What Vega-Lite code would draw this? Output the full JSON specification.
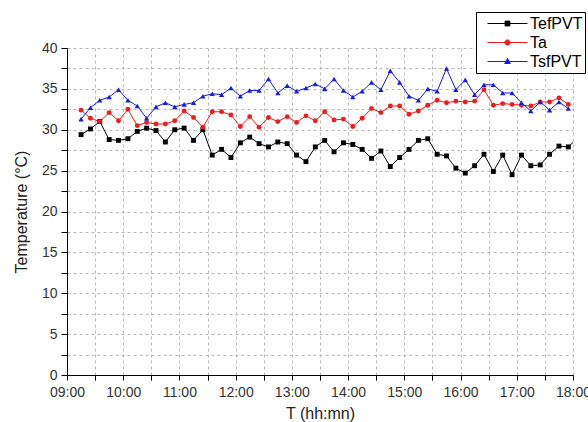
{
  "$schema": "https://vega.github.io/schema/vega-lite/v6.json",
  "width": 506,
  "height": 327,
  "autosize": {"type": "none"},
  "padding": {"left": 67, "top": 48, "right": 15, "bottom": 47},
  "background": "white",
  "config": {"view": {"stroke": null}, "font": "Liberation Sans"},
  "data": {
    "values": [
      {"series":"TefPVT","t":"2000-01-01T09:15","temp":29.4},{"series":"TefPVT","t":"2000-01-01T09:25","temp":30.1},{"series":"TefPVT","t":"2000-01-01T09:35","temp":31.0},{"series":"TefPVT","t":"2000-01-01T09:45","temp":28.8},{"series":"TefPVT","t":"2000-01-01T09:55","temp":28.7},{"series":"TefPVT","t":"2000-01-01T10:05","temp":28.9},{"series":"TefPVT","t":"2000-01-01T10:15","temp":29.8},{"series":"TefPVT","t":"2000-01-01T10:25","temp":30.2},{"series":"TefPVT","t":"2000-01-01T10:35","temp":29.9},{"series":"TefPVT","t":"2000-01-01T10:45","temp":28.5},{"series":"TefPVT","t":"2000-01-01T10:55","temp":30.0},{"series":"TefPVT","t":"2000-01-01T11:05","temp":30.2},{"series":"TefPVT","t":"2000-01-01T11:15","temp":28.7},{"series":"TefPVT","t":"2000-01-01T11:25","temp":30.0},{"series":"TefPVT","t":"2000-01-01T11:35","temp":26.9},{"series":"TefPVT","t":"2000-01-01T11:45","temp":27.6},{"series":"TefPVT","t":"2000-01-01T11:55","temp":26.6},{"series":"TefPVT","t":"2000-01-01T12:05","temp":28.4},{"series":"TefPVT","t":"2000-01-01T12:15","temp":29.1},{"series":"TefPVT","t":"2000-01-01T12:25","temp":28.3},{"series":"TefPVT","t":"2000-01-01T12:35","temp":27.9},{"series":"TefPVT","t":"2000-01-01T12:45","temp":28.5},{"series":"TefPVT","t":"2000-01-01T12:55","temp":28.3},{"series":"TefPVT","t":"2000-01-01T13:05","temp":26.9},{"series":"TefPVT","t":"2000-01-01T13:15","temp":26.1},{"series":"TefPVT","t":"2000-01-01T13:25","temp":27.9},{"series":"TefPVT","t":"2000-01-01T13:35","temp":28.7},{"series":"TefPVT","t":"2000-01-01T13:45","temp":27.3},{"series":"TefPVT","t":"2000-01-01T13:55","temp":28.4},{"series":"TefPVT","t":"2000-01-01T14:05","temp":28.2},{"series":"TefPVT","t":"2000-01-01T14:15","temp":27.6},{"series":"TefPVT","t":"2000-01-01T14:25","temp":26.5},{"series":"TefPVT","t":"2000-01-01T14:35","temp":27.4},{"series":"TefPVT","t":"2000-01-01T14:45","temp":25.5},{"series":"TefPVT","t":"2000-01-01T14:55","temp":26.6},{"series":"TefPVT","t":"2000-01-01T15:05","temp":27.6},{"series":"TefPVT","t":"2000-01-01T15:15","temp":28.7},{"series":"TefPVT","t":"2000-01-01T15:25","temp":28.9},{"series":"TefPVT","t":"2000-01-01T15:35","temp":27.0},{"series":"TefPVT","t":"2000-01-01T15:45","temp":26.8},{"series":"TefPVT","t":"2000-01-01T15:55","temp":25.3},{"series":"TefPVT","t":"2000-01-01T16:05","temp":24.7},{"series":"TefPVT","t":"2000-01-01T16:15","temp":25.6},{"series":"TefPVT","t":"2000-01-01T16:25","temp":27.0},{"series":"TefPVT","t":"2000-01-01T16:35","temp":24.9},{"series":"TefPVT","t":"2000-01-01T16:45","temp":26.9},{"series":"TefPVT","t":"2000-01-01T16:55","temp":24.5},{"series":"TefPVT","t":"2000-01-01T17:05","temp":26.9},{"series":"TefPVT","t":"2000-01-01T17:15","temp":25.6},{"series":"TefPVT","t":"2000-01-01T17:25","temp":25.7},{"series":"TefPVT","t":"2000-01-01T17:35","temp":27.0},{"series":"TefPVT","t":"2000-01-01T17:45","temp":28.0},{"series":"TefPVT","t":"2000-01-01T17:55","temp":27.9},{"series":"TefPVT","t":"2000-01-01T18:05","temp":29.0},
      {"series":"Ta","t":"2000-01-01T09:15","temp":32.4},{"series":"Ta","t":"2000-01-01T09:25","temp":31.4},{"series":"Ta","t":"2000-01-01T09:35","temp":31.0},{"series":"Ta","t":"2000-01-01T09:45","temp":32.1},{"series":"Ta","t":"2000-01-01T09:55","temp":31.1},{"series":"Ta","t":"2000-01-01T10:05","temp":32.5},{"series":"Ta","t":"2000-01-01T10:15","temp":30.5},{"series":"Ta","t":"2000-01-01T10:25","temp":30.9},{"series":"Ta","t":"2000-01-01T10:35","temp":30.7},{"series":"Ta","t":"2000-01-01T10:45","temp":30.7},{"series":"Ta","t":"2000-01-01T10:55","temp":31.1},{"series":"Ta","t":"2000-01-01T11:05","temp":32.3},{"series":"Ta","t":"2000-01-01T11:15","temp":31.5},{"series":"Ta","t":"2000-01-01T11:25","temp":30.3},{"series":"Ta","t":"2000-01-01T11:35","temp":32.2},{"series":"Ta","t":"2000-01-01T11:45","temp":32.2},{"series":"Ta","t":"2000-01-01T11:55","temp":31.8},{"series":"Ta","t":"2000-01-01T12:05","temp":30.4},{"series":"Ta","t":"2000-01-01T12:15","temp":31.6},{"series":"Ta","t":"2000-01-01T12:25","temp":30.3},{"series":"Ta","t":"2000-01-01T12:35","temp":31.5},{"series":"Ta","t":"2000-01-01T12:45","temp":31.0},{"series":"Ta","t":"2000-01-01T12:55","temp":31.6},{"series":"Ta","t":"2000-01-01T13:05","temp":30.9},{"series":"Ta","t":"2000-01-01T13:15","temp":31.7},{"series":"Ta","t":"2000-01-01T13:25","temp":31.1},{"series":"Ta","t":"2000-01-01T13:35","temp":32.2},{"series":"Ta","t":"2000-01-01T13:45","temp":31.2},{"series":"Ta","t":"2000-01-01T13:55","temp":31.3},{"series":"Ta","t":"2000-01-01T14:05","temp":30.4},{"series":"Ta","t":"2000-01-01T14:15","temp":31.4},{"series":"Ta","t":"2000-01-01T14:25","temp":32.6},{"series":"Ta","t":"2000-01-01T14:35","temp":32.1},{"series":"Ta","t":"2000-01-01T14:45","temp":32.9},{"series":"Ta","t":"2000-01-01T14:55","temp":32.9},{"series":"Ta","t":"2000-01-01T15:05","temp":31.9},{"series":"Ta","t":"2000-01-01T15:15","temp":32.3},{"series":"Ta","t":"2000-01-01T15:25","temp":33.0},{"series":"Ta","t":"2000-01-01T15:35","temp":33.6},{"series":"Ta","t":"2000-01-01T15:45","temp":33.3},{"series":"Ta","t":"2000-01-01T15:55","temp":33.5},{"series":"Ta","t":"2000-01-01T16:05","temp":33.4},{"series":"Ta","t":"2000-01-01T16:15","temp":33.5},{"series":"Ta","t":"2000-01-01T16:25","temp":34.9},{"series":"Ta","t":"2000-01-01T16:35","temp":33.0},{"series":"Ta","t":"2000-01-01T16:45","temp":33.2},{"series":"Ta","t":"2000-01-01T16:55","temp":33.1},{"series":"Ta","t":"2000-01-01T17:05","temp":33.0},{"series":"Ta","t":"2000-01-01T17:15","temp":32.9},{"series":"Ta","t":"2000-01-01T17:25","temp":33.4},{"series":"Ta","t":"2000-01-01T17:35","temp":33.4},{"series":"Ta","t":"2000-01-01T17:45","temp":33.9},{"series":"Ta","t":"2000-01-01T17:55","temp":33.1},
      {"series":"TsfPVT","t":"2000-01-01T09:15","temp":31.3},{"series":"TsfPVT","t":"2000-01-01T09:25","temp":32.7},{"series":"TsfPVT","t":"2000-01-01T09:35","temp":33.6},{"series":"TsfPVT","t":"2000-01-01T09:45","temp":34.0},{"series":"TsfPVT","t":"2000-01-01T09:55","temp":34.9},{"series":"TsfPVT","t":"2000-01-01T10:05","temp":33.6},{"series":"TsfPVT","t":"2000-01-01T10:15","temp":32.9},{"series":"TsfPVT","t":"2000-01-01T10:25","temp":31.4},{"series":"TsfPVT","t":"2000-01-01T10:35","temp":32.8},{"series":"TsfPVT","t":"2000-01-01T10:45","temp":33.3},{"series":"TsfPVT","t":"2000-01-01T10:55","temp":32.8},{"series":"TsfPVT","t":"2000-01-01T11:05","temp":33.1},{"series":"TsfPVT","t":"2000-01-01T11:15","temp":33.3},{"series":"TsfPVT","t":"2000-01-01T11:25","temp":34.1},{"series":"TsfPVT","t":"2000-01-01T11:35","temp":34.4},{"series":"TsfPVT","t":"2000-01-01T11:45","temp":34.3},{"series":"TsfPVT","t":"2000-01-01T11:55","temp":35.1},{"series":"TsfPVT","t":"2000-01-01T12:05","temp":34.1},{"series":"TsfPVT","t":"2000-01-01T12:15","temp":34.8},{"series":"TsfPVT","t":"2000-01-01T12:25","temp":34.8},{"series":"TsfPVT","t":"2000-01-01T12:35","temp":36.2},{"series":"TsfPVT","t":"2000-01-01T12:45","temp":34.5},{"series":"TsfPVT","t":"2000-01-01T12:55","temp":35.4},{"series":"TsfPVT","t":"2000-01-01T13:05","temp":34.7},{"series":"TsfPVT","t":"2000-01-01T13:15","temp":35.1},{"series":"TsfPVT","t":"2000-01-01T13:25","temp":35.6},{"series":"TsfPVT","t":"2000-01-01T13:35","temp":35.0},{"series":"TsfPVT","t":"2000-01-01T13:45","temp":36.2},{"series":"TsfPVT","t":"2000-01-01T13:55","temp":34.8},{"series":"TsfPVT","t":"2000-01-01T14:05","temp":34.0},{"series":"TsfPVT","t":"2000-01-01T14:15","temp":34.7},{"series":"TsfPVT","t":"2000-01-01T14:25","temp":35.8},{"series":"TsfPVT","t":"2000-01-01T14:35","temp":34.9},{"series":"TsfPVT","t":"2000-01-01T14:45","temp":37.2},{"series":"TsfPVT","t":"2000-01-01T14:55","temp":35.8},{"series":"TsfPVT","t":"2000-01-01T15:05","temp":34.1},{"series":"TsfPVT","t":"2000-01-01T15:15","temp":33.6},{"series":"TsfPVT","t":"2000-01-01T15:25","temp":35.0},{"series":"TsfPVT","t":"2000-01-01T15:35","temp":34.7},{"series":"TsfPVT","t":"2000-01-01T15:45","temp":37.5},{"series":"TsfPVT","t":"2000-01-01T15:55","temp":34.9},{"series":"TsfPVT","t":"2000-01-01T16:05","temp":36.1},{"series":"TsfPVT","t":"2000-01-01T16:15","temp":34.3},{"series":"TsfPVT","t":"2000-01-01T16:25","temp":35.5},{"series":"TsfPVT","t":"2000-01-01T16:35","temp":35.5},{"series":"TsfPVT","t":"2000-01-01T16:45","temp":34.5},{"series":"TsfPVT","t":"2000-01-01T16:55","temp":34.5},{"series":"TsfPVT","t":"2000-01-01T17:05","temp":33.3},{"series":"TsfPVT","t":"2000-01-01T17:15","temp":32.3},{"series":"TsfPVT","t":"2000-01-01T17:25","temp":33.4},{"series":"TsfPVT","t":"2000-01-01T17:35","temp":32.4},{"series":"TsfPVT","t":"2000-01-01T17:45","temp":33.4},{"series":"TsfPVT","t":"2000-01-01T17:55","temp":32.6}
    ]
  },
  "encoding": {
    "x": {
      "field": "t",
      "type": "temporal",
      "scale": {
        "domain": [
          {"year": 2000, "month": 1, "date": 1, "hours": 9, "minutes": 0},
          {"year": 2000, "month": 1, "date": 1, "hours": 18, "minutes": 0}
        ],
        "nice": false
      },
      "axis": {
        "title": "T (hh:mn)",
        "titleFont": "Liberation Sans",
        "titleFontSize": 16,
        "titleFontWeight": "normal",
        "titleColor": "#222222",
        "titlePadding": 6,
        "values": [
          {"year": 2000, "month": 1, "date": 1, "hours": 9, "minutes": 0},
          {"year": 2000, "month": 1, "date": 1, "hours": 9, "minutes": 30},
          {"year": 2000, "month": 1, "date": 1, "hours": 10, "minutes": 0},
          {"year": 2000, "month": 1, "date": 1, "hours": 10, "minutes": 30},
          {"year": 2000, "month": 1, "date": 1, "hours": 11, "minutes": 0},
          {"year": 2000, "month": 1, "date": 1, "hours": 11, "minutes": 30},
          {"year": 2000, "month": 1, "date": 1, "hours": 12, "minutes": 0},
          {"year": 2000, "month": 1, "date": 1, "hours": 12, "minutes": 30},
          {"year": 2000, "month": 1, "date": 1, "hours": 13, "minutes": 0},
          {"year": 2000, "month": 1, "date": 1, "hours": 13, "minutes": 30},
          {"year": 2000, "month": 1, "date": 1, "hours": 14, "minutes": 0},
          {"year": 2000, "month": 1, "date": 1, "hours": 14, "minutes": 30},
          {"year": 2000, "month": 1, "date": 1, "hours": 15, "minutes": 0},
          {"year": 2000, "month": 1, "date": 1, "hours": 15, "minutes": 30},
          {"year": 2000, "month": 1, "date": 1, "hours": 16, "minutes": 0},
          {"year": 2000, "month": 1, "date": 1, "hours": 16, "minutes": 30},
          {"year": 2000, "month": 1, "date": 1, "hours": 17, "minutes": 0},
          {"year": 2000, "month": 1, "date": 1, "hours": 17, "minutes": 30},
          {"year": 2000, "month": 1, "date": 1, "hours": 18, "minutes": 0}
        ],
        "labelExpr": "minutes(datum.value) == 0 ? timeFormat(datum.value, '%H:%M') : ''",
        "labelFont": "Liberation Sans",
        "labelFontSize": 14,
        "labelColor": "#333333",
        "labelFlush": false,
        "labelOverlap": false,
        "labelPadding": 5,
        "domainColor": "#000000",
        "domainWidth": 1,
        "tickColor": "#000000",
        "tickSize": 5,
        "grid": true,
        "gridColor": "#b8b8b8",
        "gridDash": [3, 3],
        "gridWidth": 1
      }
    },
    "y": {
      "field": "temp",
      "type": "quantitative",
      "scale": {"domain": [0, 40], "nice": false, "zero": false},
      "axis": {
        "title": "Temperature (°C)",
        "titleFont": "Liberation Sans",
        "titleFontSize": 16,
        "titleFontWeight": "normal",
        "titleColor": "#222222",
        "titlePadding": 12,
        "values": [0, 2.5, 5, 7.5, 10, 12.5, 15, 17.5, 20, 22.5, 25, 27.5, 30, 32.5, 35, 37.5, 40],
        "labelExpr": "datum.value % 5 == 0 ? format(datum.value, 'd') : ''",
        "labelFont": "Liberation Sans",
        "labelFontSize": 14,
        "labelColor": "#333333",
        "labelPadding": 4,
        "labelOverlap": false,
        "domainColor": "#000000",
        "domainWidth": 1,
        "tickColor": "#000000",
        "tickSize": 6,
        "grid": true,
        "gridColor": "#b8b8b8",
        "gridDash": [3, 3],
        "gridWidth": 1
      }
    },
    "color": {
      "field": "series",
      "type": "nominal",
      "scale": {"domain": ["TefPVT", "Ta", "TsfPVT"], "range": ["#000000", "#ee1c1c", "#1a1ae6"]},
      "legend": {
        "title": null,
        "orient": "none",
        "legendX": 409,
        "legendY": -36,
        "strokeColor": "#000000",
        "fillColor": "#ffffff",
        "padding": 2,
        "cornerRadius": 0,
        "clipHeight": 19,
        "symbolType": "M-1,0L1,0",
        "symbolSize": 1600,
        "symbolStrokeWidth": 1,
        "symbolOffset": 9,
        "labelOffset": 2,
        "rowPadding": 0,
        "labelFont": "Liberation Sans",
        "labelFontSize": 16,
        "labelColor": "#000000",
        "encode": {
          "symbols": {
            "update": {
              "shape": {"signal": "datum.value === 'TefPVT' ? 'M-1,0L1,0M-0.12,-0.12L0.12,-0.12L0.12,0.12L-0.12,0.12Z' : datum.value === 'Ta' ? 'M-1,0L1,0M-0.13,0A0.13,0.13,0,1,0,0.13,0A0.13,0.13,0,1,0,-0.13,0Z' : 'M-1,0L1,0M0,-0.15L0.14,0.1L-0.14,0.1Z'"},
              "fill": {"signal": "datum.value === 'TefPVT' ? '#000000' : datum.value === 'Ta' ? '#ee1c1c' : '#1a1ae6'"},
              "stroke": {"signal": "datum.value === 'TefPVT' ? '#000000' : datum.value === 'Ta' ? '#ee1c1c' : '#1a1ae6'"},
              "strokeWidth": {"value": 1},
              "opacity": {"value": 1}
            }
          }
        }
      }
    }
  },
  "layer": [
    {
      "mark": {"type": "line", "strokeWidth": 1, "clip": true}
    },
    {
      "transform": [{"filter": "datum.series === 'TefPVT'"}],
      "mark": {"type": "point", "shape": "square", "filled": true, "size": 24, "opacity": 1, "clip": true}
    },
    {
      "transform": [{"filter": "datum.series === 'Ta'"}],
      "mark": {"type": "point", "shape": "circle", "filled": true, "size": 24, "opacity": 1, "clip": true}
    },
    {
      "transform": [{"filter": "datum.series === 'TsfPVT'"}],
      "mark": {"type": "point", "shape": "triangle-up", "filled": true, "size": 28, "opacity": 1, "clip": true}
    }
  ]
}
